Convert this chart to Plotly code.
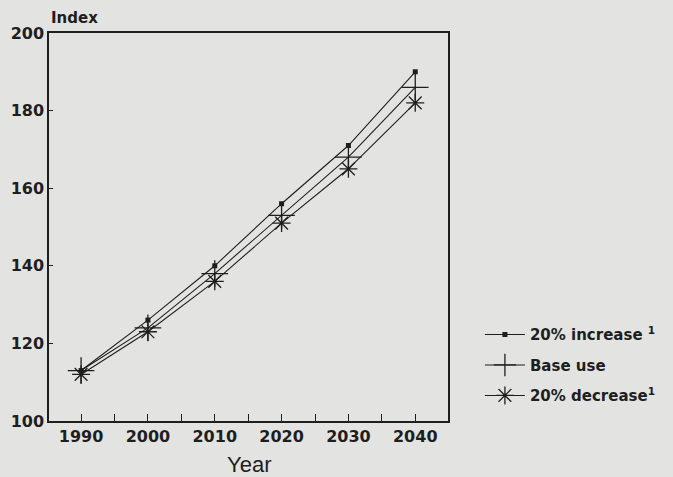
import plotly.graph_objects as go

years = [1990, 2000, 2010, 2020, 2030, 2040]
increase_20 = [113, 126, 140, 156, 171, 190]
base_use = [113, 124, 138, 153, 168, 186]
decrease_20 = [112, 123, 136, 151, 165, 182]

series_names = ["20% increase <sup>1</sup>", "Base use", "20% decrease<sup>1</sup>"]
x_ticks = [1990, 2000, 2010, 2020, 2030, 2040]
y_ticks = [100, 120, 140, 160, 180, 200]

bg = "#e3e4e1"
ink = "#1e1e1e"
bold_font = "DejaVu Sans, Verdana, sans-serif"
plain_font = "Liberation Sans, Arial, sans-serif"

fig = go.Figure()
fig.add_trace(go.Scatter(
    x=years, y=increase_20, name=series_names[0], mode="lines+markers",
    legendgroup="a",
    line=dict(color=ink, width=1.1),
    marker=dict(symbol="square", size=5, color=ink),
))
fig.add_trace(go.Scatter(
    x=years, y=base_use, name=series_names[1], mode="lines+markers",
    legendgroup="b",
    line=dict(color=ink, width=1.1),
    marker=dict(symbol="cross-thin", size=19, line=dict(color=ink, width=1.3)),
))
fig.add_trace(go.Scatter(
    x=years, y=decrease_20, name=series_names[2], mode="lines+markers",
    legendgroup="c",
    line=dict(color=ink, width=1.1),
    marker=dict(symbol="asterisk", size=15, line=dict(color=ink, width=1.3)),
))

fig.update_layout(
    width=673, height=477,
    margin=dict(l=49, r=225, t=33, b=56),
    paper_bgcolor=bg, plot_bgcolor=bg,
    font=dict(family=plain_font, color=ink, size=14),
    showlegend=True,
    legend=dict(
        x=1.08, y=0.265, xanchor="left", yanchor="top",
        bgcolor="rgba(0,0,0,0)",
        font=dict(size=15, family=bold_font, weight="bold"),
        itemwidth=40, traceorder="grouped", tracegroupgap=8,
    ),
    annotations=[
        dict(
            text="Index", x=0, y=1.0, xref="paper", yref="paper",
            xanchor="left", yanchor="bottom", yshift=4, showarrow=False,
            font=dict(size=15, family=bold_font, weight="bold"),
        ),
        dict(
            text="Year", x=0.5, y=0, xref="paper", yref="paper",
            xanchor="center", yanchor="middle", yshift=-43, showarrow=False,
            font=dict(size=22, family=plain_font),
        ),
    ],
)

fig.update_xaxes(
    range=[1985.2, 2044.9], tickvals=x_ticks, ticktext=[str(v) for v in x_ticks],
    showgrid=False, zeroline=False,
    showline=True, linecolor=ink, linewidth=1.5, mirror=True,
    ticks="inside", ticklen=7, tickwidth=1.2, tickcolor=ink,
    minor=dict(dtick=5, tick0=1985, ticks="inside", ticklen=7, tickwidth=1.2, tickcolor=ink),
    tickfont=dict(size=16, family=bold_font, weight="bold"),
)
fig.update_yaxes(
    range=[100, 200], tickvals=y_ticks,
    showgrid=False, zeroline=False,
    showline=True, linecolor=ink, linewidth=1.5, mirror=True,
    ticks="inside", ticklen=4, tickwidth=1.2, tickcolor=ink,
    tickfont=dict(size=16, family=bold_font, weight="bold"),
)

fig.write_html("out.html")
